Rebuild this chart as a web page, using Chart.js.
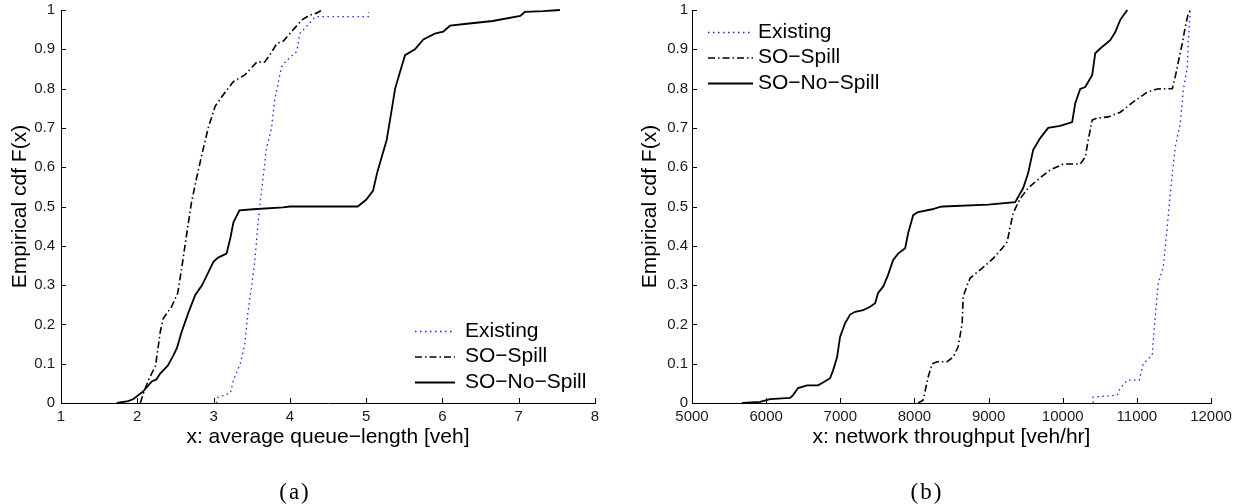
<!DOCTYPE html>
<html lang="en">
<head>
  <meta charset="UTF-8">
  <title>Empirical cdf - queue length and throughput</title>
  <script src="https://cdn.jsdelivr.net/npm/chart.js"></script>
  <style>
    html, body { margin: 0; padding: 0; background: #fff; }
    #wrap { position: relative; width: 1243px; height: 504px; }
    .panel { position: absolute; top: 0; height: 504px; }
    .cap { position: absolute; top: 477px; line-height: 30px; font-family: "Liberation Serif", serif; font-size: 23px; letter-spacing: 2px; color: #000; transform: translateX(-50%); }
  </style>
</head>
<body>
  <div id="wrap">
    <div class="panel" style="left:0;width:615px"><canvas id="queueChart"></canvas></div>
    <div class="panel" style="left:620px;width:623px"><canvas id="throughputChart"></canvas></div>
    <div class="cap" style="left:295px">(a)</div>
    <div class="cap" style="left:927px">(b)</div>
  </div>
  <script>
    // ticks
    const yTicks = [0, 0.1, 0.2, 0.3, 0.4, 0.5, 0.6, 0.7, 0.8, 0.9, 1];
    const yTickLabels = ['0', '0.1', '0.2', '0.3', '0.4', '0.5', '0.6', '0.7', '0.8', '0.9', '1'];
    const queueTicks = [1, 2, 3, 4, 5, 6, 7, 8];
    const queueTickLabels = ['1', '2', '3', '4', '5', '6', '7', '8'];
    const throughputTicks = [5000, 6000, 7000, 8000, 9000, 10000, 11000, 12000];
    const throughputTickLabels = ['5000', '6000', '7000', '8000', '9000', '10000', '11000', '12000'];

    const seriesNames = ['Existing', 'SO\u2212Spill', 'SO\u2212No\u2212Spill'];

    // (a) average queue-length
    const qExistingX = [3.04, 3.06, 3.22, 3.26, 3.35, 3.41, 3.45, 3.50, 3.54, 3.58, 3.61, 3.65, 3.69, 3.76, 3.80, 3.89, 3.96, 4.09, 4.13, 4.26, 4.33, 4.38, 5.03, 5.03];
    const qExistingY = [0, 0.015, 0.025, 0.058, 0.10, 0.15, 0.23, 0.30, 0.36, 0.45, 0.51, 0.575, 0.645, 0.70, 0.77, 0.855, 0.872, 0.894, 0.94, 0.967, 0.982, 0.983, 0.983, 0.995];
    const qSpillX = [2.04, 2.08, 2.15, 2.24, 2.30, 2.34, 2.45, 2.53, 2.58, 2.64, 2.71, 2.78, 2.85, 2.93, 3.02, 3.11, 3.26, 3.41, 3.57, 3.67, 3.74, 3.83, 3.91, 4.00, 4.16, 4.26, 4.35, 4.42];
    const qSpillY = [0, 0.025, 0.06, 0.095, 0.18, 0.215, 0.245, 0.28, 0.34, 0.42, 0.51, 0.575, 0.635, 0.70, 0.755, 0.78, 0.818, 0.835, 0.868, 0.868, 0.886, 0.915, 0.92, 0.94, 0.975, 0.987, 0.992, 1.0];
    const qNoSpillX = [1.73, 1.88, 1.95, 2.08, 2.19, 2.25, 2.30, 2.40, 2.47, 2.52, 2.58, 2.67, 2.76, 2.85, 2.95, 3.00, 3.06, 3.17, 3.22, 3.26, 3.34, 3.52, 3.91, 4.00, 4.89, 5.00, 5.09, 5.15, 5.27, 5.33, 5.38, 5.44, 5.51, 5.64, 5.75, 5.90, 6.01, 6.10, 6.32, 6.66, 7.02, 7.08, 7.32, 7.54];
    const qNoSpillY = [0, 0.005, 0.01, 0.03, 0.055, 0.06, 0.075, 0.095, 0.12, 0.14, 0.18, 0.23, 0.275, 0.30, 0.34, 0.36, 0.37, 0.38, 0.42, 0.46, 0.49, 0.493, 0.498, 0.50, 0.50, 0.517, 0.54, 0.59, 0.67, 0.74, 0.80, 0.84, 0.885, 0.90, 0.925, 0.94, 0.945, 0.96, 0.965, 0.972, 0.985, 0.995, 0.997, 1.0];

    // (b) network throughput
    const tExistingX = [10411, 10411, 10735, 10776, 10871, 11032, 11086, 11208, 11221, 11248, 11289, 11356, 11410, 11437, 11478, 11518, 11586, 11626, 11680, 11694, 11721];
    const tExistingY = [0, 0.015, 0.02, 0.038, 0.058, 0.058, 0.10, 0.122, 0.16, 0.22, 0.305, 0.346, 0.448, 0.504, 0.585, 0.651, 0.712, 0.796, 0.855, 0.923, 1.0];
    const tSpillX = [8050, 8117, 8185, 8239, 8306, 8441, 8522, 8590, 8644, 8657, 8711, 8752, 8914, 9062, 9184, 9251, 9292, 9332, 9386, 9427, 9534, 9656, 9831, 10007, 10236, 10304, 10344, 10398, 10466, 10614, 10776, 10952, 11140, 11275, 11478, 11518, 11559, 11613, 11653, 11694, 11721];
    const tSpillY = [0, 0.007, 0.066, 0.10, 0.105, 0.105, 0.117, 0.143, 0.203, 0.27, 0.30, 0.318, 0.343, 0.368, 0.394, 0.41, 0.448, 0.483, 0.505, 0.52, 0.547, 0.567, 0.593, 0.608, 0.608, 0.626, 0.669, 0.72, 0.725, 0.728, 0.74, 0.766, 0.791, 0.799, 0.80, 0.83, 0.868, 0.915, 0.957, 0.992, 1.0];
    const tNoSpillX = [5675, 5918, 6053, 6323, 6363, 6431, 6552, 6700, 6768, 6862, 6903, 6957, 6997, 7065, 7132, 7200, 7308, 7402, 7470, 7510, 7578, 7645, 7713, 7780, 7875, 7915, 7983, 8050, 8239, 8347, 8387, 8995, 9359, 9467, 9534, 9602, 9697, 9804, 9966, 10128, 10169, 10236, 10304, 10398, 10439, 10506, 10641, 10709, 10776, 10871];
    const tNoSpillY = [0, 0.003, 0.01, 0.013, 0.02, 0.038, 0.045, 0.045, 0.052, 0.063, 0.083, 0.117, 0.168, 0.203, 0.225, 0.232, 0.236, 0.245, 0.254, 0.28, 0.296, 0.326, 0.364, 0.38, 0.394, 0.432, 0.478, 0.486, 0.493, 0.499, 0.50, 0.505, 0.511, 0.547, 0.585, 0.644, 0.674, 0.70, 0.705, 0.715, 0.763, 0.799, 0.804, 0.835, 0.89, 0.902, 0.923, 0.944, 0.975, 1.0];

    const FONT = '"Liberation Sans", Arial, sans-serif';
    const lineStyles = [
      { borderColor: 'rgb(30,30,255)', borderWidth: 1.3, borderDash: [1.5, 3.5] },
      { borderColor: '#000', borderWidth: 1.6, borderDash: [7, 3, 1.5, 3] },
      { borderColor: '#000', borderWidth: 1.8, borderDash: [] }
    ];

    const toPoints = (xs, ys) => xs.map((v, i) => ({ x: v, y: ys[i] }));

    // MATLAB-style inward tick marks
    const inwardTicks = {
      id: 'inwardTicks',
      afterDatasetsDraw(chart) {
        const { ctx } = chart;
        const x = chart.scales.x, y = chart.scales.y;
        ctx.save();
        ctx.strokeStyle = '#000';
        ctx.lineWidth = 1;
        ctx.beginPath();
        x.ticks.forEach(t => {
          const px = Math.round(x.getPixelForValue(t.value)) + 0.5;
          ctx.moveTo(px, y.bottom);
          ctx.lineTo(px, y.bottom - 5);
        });
        y.ticks.forEach(t => {
          const py = Math.round(y.getPixelForValue(t.value)) + 0.5;
          ctx.moveTo(x.left, py);
          ctx.lineTo(x.left + 5, py);
        });
        ctx.stroke();
        ctx.restore();
      }
    };

    // legend drawn inside the axes
    const lineLegend = {
      id: 'lineLegend',
      afterDraw(chart, args, opts) {
        const { ctx } = chart;
        ctx.save();
        ctx.font = '21px ' + FONT;
        ctx.textBaseline = 'middle';
        ctx.textAlign = 'left';
        chart.data.datasets.forEach((ds, i) => {
          const yy = opts.top + i * opts.rowGap;
          ctx.strokeStyle = ds.borderColor;
          ctx.lineWidth = ds.borderWidth;
          ctx.setLineDash(ds.borderDash);
          ctx.beginPath();
          ctx.moveTo(opts.left, yy + 0.5);
          ctx.lineTo(opts.left + opts.lineLen, yy + 0.5);
          ctx.stroke();
          ctx.setLineDash([]);
          ctx.fillStyle = '#000';
          ctx.fillText(ds.label, opts.left + opts.lineLen + opts.gap, yy);
        });
        ctx.restore();
      }
    };

    function makeCdfChart(id, xs, ys, cfg) {
      return new Chart(document.getElementById(id), {
        type: 'line',
        data: {
          datasets: seriesNames.map((name, i) => Object.assign({
            label: name,
            data: toPoints(xs[i], ys[i]),
            pointRadius: 0,
            tension: 0,
            fill: false,
            clip: 4
          }, lineStyles[i]))
        },
        options: {
          responsive: true,
          maintainAspectRatio: false,
          animation: false,
          layout: { padding: { top: 10, right: cfg.padRight, left: 0, bottom: 0 } },
          plugins: {
            legend: { display: false },
            tooltip: { enabled: false },
            lineLegend: cfg.legend
          },
          scales: {
            x: {
              type: 'linear',
              min: cfg.xTicks[0],
              max: cfg.xTicks[cfg.xTicks.length - 1],
              afterBuildTicks: s => { s.ticks = cfg.xTicks.map(v => ({ value: v })); },
              afterFit: s => { s.height = 101; },
              ticks: {
                autoSkip: false, maxRotation: 0, padding: 5, color: '#1a1a1a',
                font: { family: FONT, size: 15 },
                callback: (v, i) => cfg.xLabels[i]
              },
              grid: { display: false, drawTicks: false },
              border: { display: true, color: '#000', width: 1 },
              title: {
                display: true, text: cfg.xTitle, color: '#000',
                font: { family: FONT, size: 21 },
                padding: { top: 0, bottom: 54 }
              }
            },
            y: {
              type: 'linear',
              min: 0,
              max: 1,
              afterBuildTicks: s => { s.ticks = yTicks.map(v => ({ value: v })); },
              afterFit: s => { s.width = cfg.yWidth; s.paddingTop = 0; s.paddingBottom = 0; },
              ticks: {
                autoSkip: false, padding: cfg.yPad, color: '#1a1a1a',
                font: { family: FONT, size: 15 },
                callback: (v, i) => yTickLabels[i]
              },
              grid: { display: false, drawTicks: false },
              border: { display: true, color: '#000', width: 1 },
              title: {
                display: true, text: 'Empirical cdf F(x)', color: '#000',
                font: { family: FONT, size: 21 },
                padding: { top: cfg.yTitlePad, bottom: 0 }
              }
            }
          }
        },
        plugins: [inwardTicks, lineLegend]
      });
    }

    makeCdfChart('queueChart',
      [qExistingX, qSpillX, qNoSpillX],
      [qExistingY, qSpillY, qNoSpillY],
      {
        xTicks: queueTicks, xLabels: queueTickLabels,
        xTitle: 'x: average queue\u2212length [veh]',
        yWidth: 61, yPad: 6, yTitlePad: 8, padRight: 20,
        legend: { left: 415, top: 331, rowGap: 25.5, lineLen: 40, gap: 10 }
      });

    makeCdfChart('throughputChart',
      [tExistingX, tSpillX, tNoSpillX],
      [tExistingY, tSpillY, tNoSpillY],
      {
        xTicks: throughputTicks, xLabels: throughputTickLabels,
        xTitle: 'x: network throughput [veh/hr]',
        yWidth: 72, yPad: 4, yTitlePad: 18, padRight: 32,
        legend: { left: 88, top: 32, rowGap: 25.5, lineLen: 45, gap: 5 }
      });
  </script>
</body>
</html>
